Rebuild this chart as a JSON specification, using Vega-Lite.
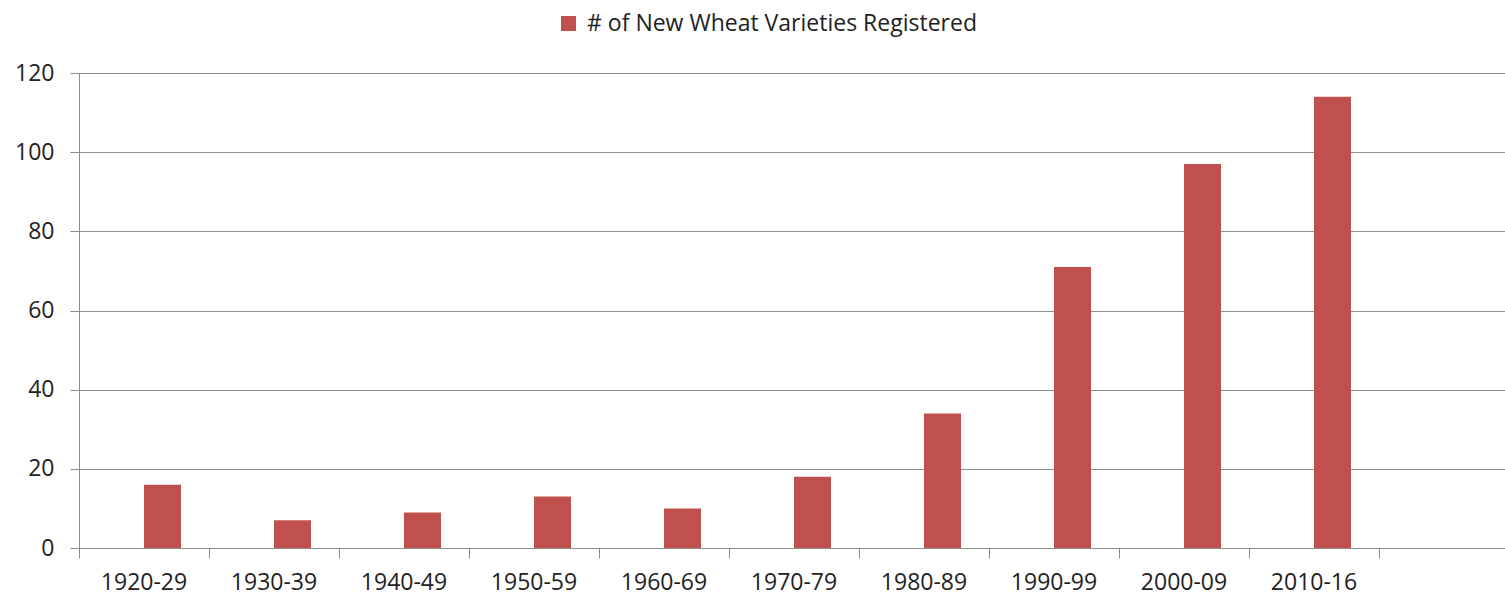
{
  "$schema": "https://vega.github.io/schema/vega-lite/v6.json",
  "width": 1430,
  "height": 475,
  "autosize": "none",
  "padding": {"left": 79, "top": 73, "right": 0, "bottom": 47},
  "background": "white",
  "config": {"view": {"stroke": null}},
  "data": {"values": [
    {"decade": "1920-29", "count": 16, "series": "# of New Wheat Varieties Registered"},
    {"decade": "1930-39", "count": 7, "series": "# of New Wheat Varieties Registered"},
    {"decade": "1940-49", "count": 9, "series": "# of New Wheat Varieties Registered"},
    {"decade": "1950-59", "count": 13, "series": "# of New Wheat Varieties Registered"},
    {"decade": "1960-69", "count": 10, "series": "# of New Wheat Varieties Registered"},
    {"decade": "1970-79", "count": 18, "series": "# of New Wheat Varieties Registered"},
    {"decade": "1980-89", "count": 34, "series": "# of New Wheat Varieties Registered"},
    {"decade": "1990-99", "count": 71, "series": "# of New Wheat Varieties Registered"},
    {"decade": "2000-09", "count": 97, "series": "# of New Wheat Varieties Registered"},
    {"decade": "2010-16", "count": 114, "series": "# of New Wheat Varieties Registered"}
  ]},
  "mark": {"type": "bar"},
  "encoding": {
    "x": {
      "field": "decade", "type": "nominal", "sort": null,
      "scale": {"domain": ["1920-29","1930-39","1940-49","1950-59","1960-69","1970-79","1980-89","1990-99","2000-09","2010-16"," "], "paddingInner": 0, "paddingOuter": 0},
      "axis": {"title": null, "labelAngle": 0, "bandPosition": 0, "tickSize": 10, "domainColor": "#8c8c8c", "tickColor": "#8c8c8c", "labelFont": "Open Sans", "labelFontSize": 23, "labelColor": "#222222", "labelPadding": 13, "grid": false, "labelOverlap": false, "labelBound": false}
    },
    "xOffset": {
      "field": "series", "type": "nominal",
      "scale": {"domain": ["_", "# of New Wheat Varieties Registered"], "paddingInner": 0, "paddingOuter": 0.757}
    },
    "y": {
      "field": "count", "type": "quantitative",
      "scale": {"domain": [0, 120], "nice": false},
      "axis": {"title": null, "values": [0, 20, 40, 60, 80, 100, 120], "tickSize": 9, "domainColor": "#8c8c8c", "tickColor": "#8c8c8c", "gridColor": "#8c8c8c", "grid": true, "labelFont": "Open Sans", "labelFontSize": 23, "labelColor": "#222222", "labelPadding": 16}
    },
    "color": {
      "field": "series", "type": "nominal",
      "scale": {"range": ["#C0504D"]},
      "legend": {"title": null, "orient": "none", "legendX": 478, "legendY": -61, "symbolType": "square", "symbolSize": 225, "symbolStrokeWidth": 0, "labelFont": "Open Sans", "labelFontSize": 23, "labelColor": "#222222", "labelOffset": 7, "labelLimit": 600, "padding": 0}
    }
  }
}
